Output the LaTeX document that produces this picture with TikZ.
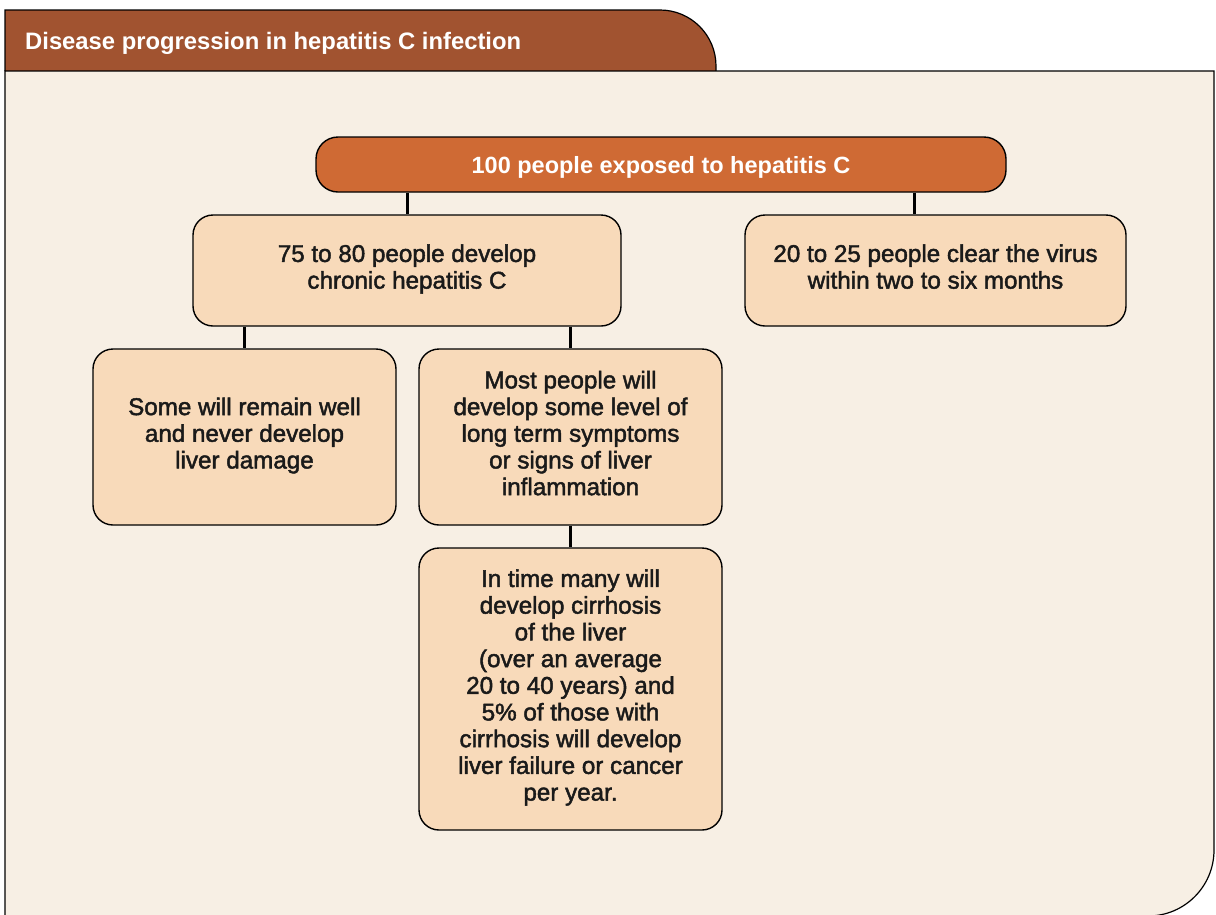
\documentclass[tikz,border=0pt]{standalone}
\usepackage{fontspec}
\setmainfont{Liberation Sans}
\definecolor{tabc}{RGB}{161,83,48}
\definecolor{rootc}{RGB}{207,106,52}
\definecolor{boxc}{RGB}{248,218,186}
\definecolor{bgc}{RGB}{247,239,228}
\definecolor{txt}{RGB}{26,26,26}
\newcommand{\heavyon}{\special{pdf:code 2 Tr 0.45 w}}
\newcommand{\heavyoff}{\special{pdf:code 0 Tr}}
\begin{document}
\begin{tikzpicture}[x=1pt,y=-1pt,
  every node/.style={inner sep=0pt},
  frame/.style={draw=black, line width=1.2pt},
  peach/.style={draw=black, line width=1.4pt, fill=boxc, rounded corners=20pt, align=center, text=txt,
    font=\fontsize{24.2}{26.7}\selectfont,
    execute at begin node={\heavyon\strut}, execute at end node={\strut\heavyoff}},
  rootbox/.style={draw=black, line width=1.4pt, fill=rootc, rounded corners=22pt, align=center, text=white,
    font=\bfseries\fontsize{23.5}{26}\selectfont, text depth=0pt},
  link/.style={draw=black, line width=3pt}
]
\useasboundingbox (0,0) rectangle (1216,914);
\fill[white] (0,0) rectangle (1216,914);
% tab
\draw[frame, fill=tabc] (5,71) -- (5,10) -- (660,10) .. controls (690.9,10) and (716,35.1) .. (716,66) -- (716,71);
% body panel
\draw[frame, fill=bgc] (5,71) -- (1214,71) -- (1214,850) .. controls (1214,886.5) and (1184.5,916) .. (1148,916) -- (5,916) -- cycle;
\node[anchor=base west, text=white, font=\bfseries\fontsize{23.8}{28}\selectfont] (title) at (25,49) {Disease progression in hepatitis C infection};
% nodes
\node[rootbox, minimum width=690pt, minimum height=55pt] (root) at (661,164.5) {100 people exposed to hepatitis C};
\node[peach, minimum width=428pt, minimum height=111pt] (A) at (407,270.5) {75 to 80 people develop\\chronic hepatitis C};
\node[peach, minimum width=381pt, minimum height=111pt] (B) at (935.5,270.5) {20 to 25 people clear the virus\\within two to six months};
\node[peach, minimum width=303pt, minimum height=176pt] (C) at (244.5,437) {Some will remain well\\and never develop\\liver damage};
\node[peach, minimum width=303pt, minimum height=176pt] (D) at (570.5,437) {Most people will\\develop some level of\\long term symptoms\\or signs of liver\\inflammation};
\node[peach, minimum width=303pt, minimum height=282pt] (E) at (570.5,689) {In time many will\\develop cirrhosis\\of the liver\\(over an average\\20 to 40 years) and\\5\% of those with\\cirrhosis will develop\\liver failure or cancer\\per year.};
% connectors
\draw[link] (A.north |- root.south) -- (A.north);
\draw[link] ([xshift=-21.5pt]B.north |- root.south) -- ([xshift=-21.5pt]B.north);
\draw[link] (C.north |- A.south) -- (C.north);
\draw[link] (D.north |- A.south) -- (D.north);
\draw[link] (D.south) -- (E.north);
\end{tikzpicture}
\end{document}
